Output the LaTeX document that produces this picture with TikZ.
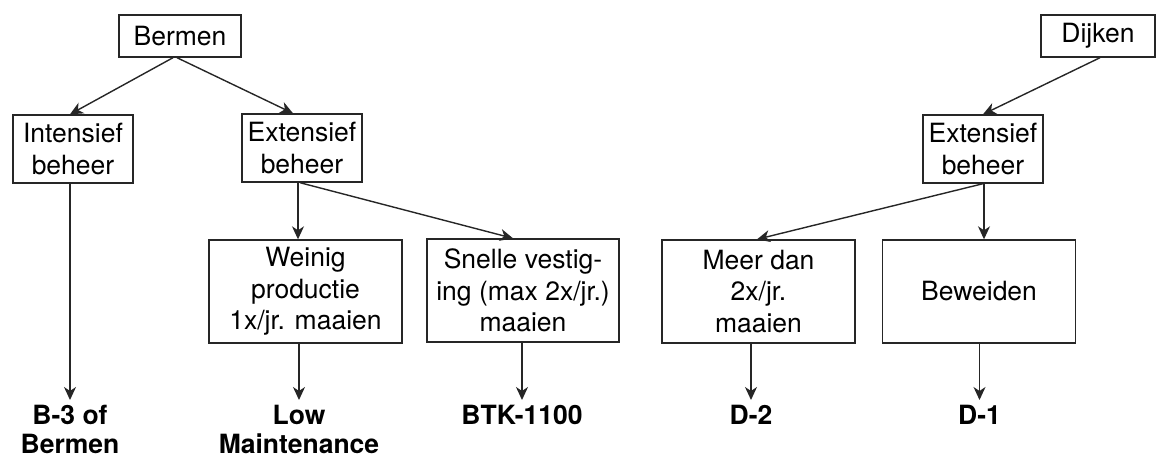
\documentclass[tikz,border=0pt]{standalone}
\usepackage{fontspec}
\setmainfont{TeX Gyre Heros}
\usetikzlibrary{arrows.meta}
\begin{document}
\begin{tikzpicture}[x=1pt,y=-1pt,
  box/.style={draw=black!85, line width=1.4pt, inner sep=0pt, align=center,
    font=\fontsize{26.5}{31.5}\selectfont},
  lab/.style={inner sep=0pt, anchor=north, align=center,
    font=\fontsize{26.5}{29}\selectfont\bfseries},
  conn/.style={draw=black!85, line width=1.4pt,
    -{Stealth[length=13pt,width=12pt,inset=4pt]}}]
\useasboundingbox (0,0) rectangle (1157,460);
% left tree
\node[box, minimum width=122pt, minimum height=42pt] (bermen) at (180,36) {Bermen};
\node[box, minimum width=120pt, minimum height=68pt] (intb) at (73,149) {Intensief\\beheer};
\node[box, minimum width=120pt, minimum height=68pt] (extl) at (302,148) {Extensief\\beheer};
\node[box, minimum width=193pt, minimum height=103pt] (weinig) at (305.5,291.5) {Weinig\\productie\\1x/jr. maaien};
\node[box, minimum width=192pt, minimum height=103pt] (snelle) at (523,290.5) {Snelle vestig-\\ing (max 2x/jr.)\\maaien};
\node[lab] (b3) at (70,405) {B-3 of\\Bermen};
\node[lab] (low) at (299,405) {Low\\Maintenance};
\node[lab] (btk) at (522,405) {BTK-1100};
% right tree
\node[box, minimum width=114pt, minimum height=42pt] (dijken) at (1098,36) {Dijken};
\node[box, minimum width=120pt, minimum height=68pt] (extr) at (983,149) {Extensief\\beheer};
\node[box, minimum width=193pt, minimum height=103pt] (meer) at (758.5,291.5) {Meer dan\\2x/jr.\\maaien};
\node[box, minimum width=193pt, minimum height=103pt] (beweiden) at (979,291.5) {Beweiden};
\node[lab] (d2) at (751,405) {D-2};
\node[lab] (d1) at (979.5,405) {D-1};
% connectors
\draw[conn] ([xshift=-7pt]bermen.south) -- ([xshift=-3pt]intb.north);
\draw[conn] ([xshift=-3pt]bermen.south) -- ([xshift=-9pt]extl.north);
\draw[conn] ([xshift=-3pt]intb.south) -- ([yshift=5pt]b3.north);
\draw[conn] ([xshift=-4pt]extl.south) -- ([xshift=-4pt]extl.south |- weinig.north);
\draw[conn] ([xshift=-2pt]extl.south) -- ([xshift=-10pt]snelle.north);
\draw[conn] (weinig.south -| low.north) -- ([yshift=5pt]low.north);
\draw[conn] (snelle.south -| btk.north) -- ([yshift=5pt]btk.north);
\draw[conn] ([xshift=2pt]dijken.south) -- (extr.north);
\draw[conn] (extr.south) -- ([xshift=-1.5pt]meer.north);
\draw[conn] ([xshift=1pt]extr.south) -- ([xshift=1pt]extr.south |- beweiden.north);
\draw[conn] (meer.south -| d2.north) -- ([yshift=5pt]d2.north);
\draw[conn] (beweiden.south -| d1.north) -- ([yshift=5pt]d1.north);
\end{tikzpicture}
\end{document}
